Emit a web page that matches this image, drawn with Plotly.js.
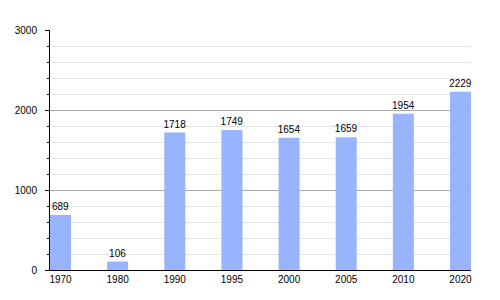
<!DOCTYPE html>
<html>
<head>
<meta charset="utf-8">
<script src="https://cdn.plot.ly/plotly-3.0.1.min.js"></script>
<style>html,body{margin:0;padding:0;background:#fff;}#chart{width:500px;height:300px;}</style>
</head>
<body>
<div id="chart"></div>
<script>
const years = ["1970", "1980", "1990", "1995", "2000", "2005", "2010", "2020"];
const population = [689, 106, 1718, 1749, 1654, 1659, 1954, 2229];
const yTickVals = [0, 1000, 2000, 3000];

const trace = {
  type: "bar",
  x: years,
  y: population,
  text: population.map(String),
  textposition: "outside",
  constraintext: "none",
  cliponaxis: false,
  textfont: {family: "Liberation Sans, Arial, sans-serif", size: 10, color: "#000"},
  marker: {color: "#99b4ff", line: {width: 0}},
  width: 0.3675,
  hoverinfo: "x+y"
};

const layout = {
  width: 500,
  height: 300,
  margin: {l: 50, r: 29, t: 30, b: 30, pad: 0},
  paper_bgcolor: "#fff",
  plot_bgcolor: "#fff",
  showlegend: false,
  font: {family: "Liberation Sans, Arial, sans-serif", size: 10, color: "#000"},
  xaxis: {
    type: "category",
    range: [-0.184, 7.184],
    showgrid: false,
    showline: true,
    linecolor: "#000",
    linewidth: 1,
    ticks: "",
    tickfont: {size: 10, color: "#000"},
    zeroline: false,
    fixedrange: true
  },
  yaxis: {
    range: [0, 3000],
    tickvals: yTickVals,
    ticktext: yTickVals.map(String),
    showline: true,
    linecolor: "#000",
    linewidth: 1,
    ticks: "outside",
    ticklen: 4,
    tickcolor: "#000",
    ticklabelstandoff: 6,
    showgrid: true,
    gridcolor: "#aaaaaa",
    gridwidth: 1,
    zeroline: false,
    tickfont: {size: 10, color: "#000"},
    minor: {
      dtick: 200,
      tick0: 0,
      showgrid: true,
      gridcolor: "#e3e3e3",
      gridwidth: 1,
      ticks: "outside",
      ticklen: 2,
      tickcolor: "#000"
    },
    fixedrange: true
  }
};

Plotly.newPlot("chart", [trace], layout, {displayModeBar: false, staticPlot: true});
</script>
</body>
</html>
